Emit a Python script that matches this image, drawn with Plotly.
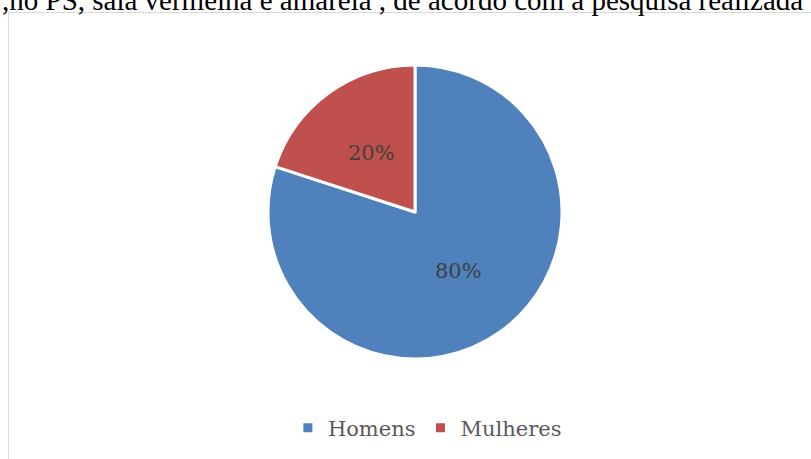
import math
import plotly.graph_objects as go

categories = ["Homens", "Mulheres"]
values = [80, 20]
colors = ["#4F81BD", "#C0504D"]
title_text = ",no PS, sala vermelha e amarela , de acordo com a pesquisa realizada"

W, H = 811, 459
cx, cy, r = 415, 212, 147

fig = go.Figure(go.Pie(
    labels=categories,
    values=values,
    sort=False,
    direction="clockwise",
    rotation=0,
    marker=dict(colors=colors, line=dict(color="white", width=3)),
    textinfo="none",
    domain=dict(x=[(cx - r) / W, (cx + r) / W], y=[(H - cy - r) / H, (H - cy + r) / H]),
    hoverinfo="label+percent",
))

# percentage labels on each slice's bisector, at half the radius
annotations = []
total = sum(values)
start = 0.0
for v in values:
    frac = v / total
    mid = (start + frac / 2) * 2 * math.pi
    start += frac
    px = cx + 0.5 * r * math.sin(mid)
    py = (H - cy) + 0.5 * r * math.cos(mid)
    annotations.append(dict(
        text=f"{round(frac * 100)}%", xref="paper", yref="paper",
        x=px / W, y=py / H, xanchor="center", yanchor="middle", showarrow=False,
        font=dict(family="DejaVu Serif, serif", size=21, color="#404040"),
    ))

annotations.append(dict(
    text=title_text, xref="paper", yref="paper", x=0, xanchor="left",
    y=1 - 0.5 / H, yanchor="middle", showarrow=False,
    font=dict(family="Liberation Serif, Times New Roman, serif", size=29, color="black"),
))

fig.update_layout(
    width=W, height=H,
    margin=dict(l=0, r=0, t=0, b=0),
    paper_bgcolor="white",
    plot_bgcolor="white",
    showlegend=True,
    legend=dict(
        orientation="h",
        x=0.527, xanchor="center",
        y=(H - 428) / H, yanchor="middle",
        font=dict(family="DejaVu Serif, serif", size=21, color="#595959"),
        itemwidth=30,
        traceorder="normal",
    ),
    shapes=[
        dict(type="line", xref="paper", yref="paper", x0=8.5 / W, x1=8.5 / W, y0=0, y1=(H - 12) / H,
             line=dict(color="#D9D9D9", width=1)),
        dict(type="line", xref="paper", yref="paper", x0=8 / W, x1=1, y0=(H - 12.5) / H, y1=(H - 12.5) / H,
             line=dict(color="#D9D9D9", width=1)),
    ],
    annotations=annotations,
)

fig.write_html("out.html")
